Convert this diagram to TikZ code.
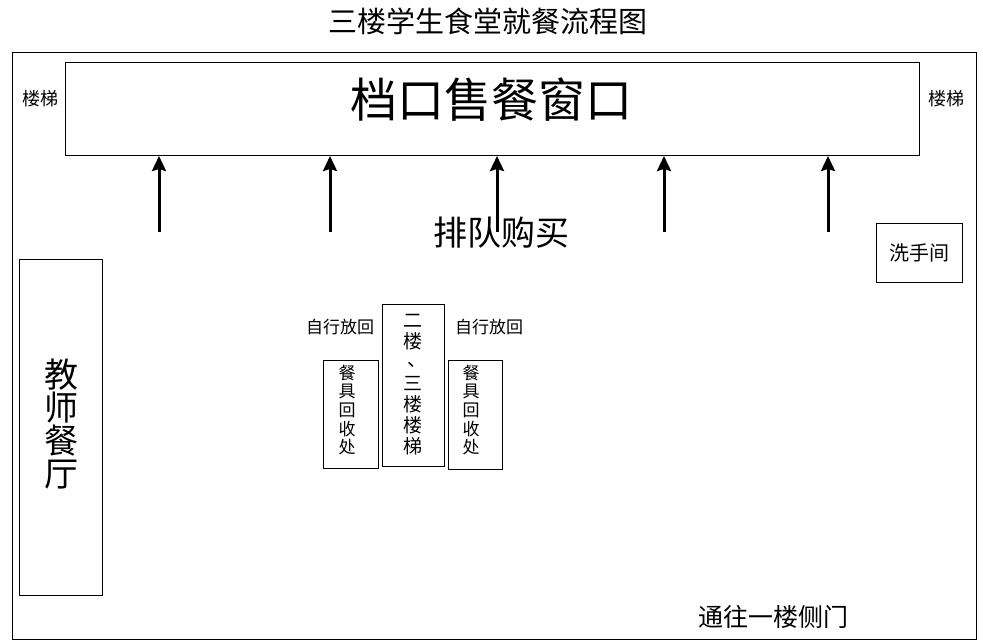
\documentclass[tikz,border=0pt]{standalone}
\usepackage{fontspec}
\setmainfont{Noto Sans CJK SC}
\usetikzlibrary{arrows.meta}
\begin{document}
\begin{tikzpicture}[x=1pt,y=-1pt,
  box/.style={draw,line width=1pt,anchor=north west,inner sep=0pt},
  lbl/.style={inner sep=0pt,align=center},
  uparrow/.style={line width=3pt,-{Stealth[length=15pt,width=14pt,inset=2pt]}}]
\useasboundingbox (0,0) rectangle (983,643);
% title
\node[lbl,font=\fontsize{29}{31}\selectfont] (title) at (488,21) {三楼学生食堂就餐流程图};
% outer frame
\node[box,minimum width=964pt,minimum height=587pt] (frame) at (12,52) {};
% serving windows
\node[box,minimum width=854pt,minimum height=93pt] (window) at (65,62) {};
\node[lbl,font=\fontsize{47}{50}\selectfont] (windowtxt) at (491,100) {档口售餐窗口};
% stairs labels
\node[lbl,font=\fontsize{18}{20}\selectfont] (stairL) at (41,99) {楼梯};
\node[lbl,font=\fontsize{18}{20}\selectfont] (stairR) at (946,99) {楼梯};
% arrows
\coordinate (a1) at (159,232);
\coordinate (a2) at (330,232);
\coordinate (a3) at (497,232);
\coordinate (a4) at (664,232);
\coordinate (a5) at (828,232);
\foreach \a in {a1,a2,a3,a4,a5}
  \draw[uparrow] (\a) -- (\a |- window.south);
\node[lbl,font=\fontsize{34}{36}\selectfont] (queue) at (501,233) {排队购买};
% washroom
\node[box,minimum width=86pt,minimum height=59pt] (wash) at (876,223) {};
\node[lbl,font=\fontsize{20}{22}\selectfont] (washtxt) at (wash.center) {洗手间};
% teachers' dining room
\node[box,minimum width=83pt,minimum height=336pt] (teach) at (19,259) {};
\node[lbl,font=\fontsize{34}{33}\selectfont] (teachtxt) at (61,424) {教\\师\\餐\\厅};
% return labels
\node[lbl,font=\fontsize{17}{19}\selectfont] (retL) at (340,327) {自行放回};
\node[lbl,font=\fontsize{17}{19}\selectfont] (retR) at (489,327) {自行放回};
% tableware return boxes
\node[box,minimum width=55pt,minimum height=108pt] (trayL) at (323,360) {};
\node[lbl,font=\fontsize{17}{18.7}\selectfont] (trayLtxt) at (347,410) {餐\\具\\回\\收\\处};
\node[box,minimum width=54pt,minimum height=109pt] (trayR) at (448,360) {};
\node[lbl,font=\fontsize{17}{18.7}\selectfont] (trayRtxt) at (471,410) {餐\\具\\回\\收\\处};
% stairs to 2nd/3rd floor
\node[box,minimum width=62pt,minimum height=162pt] (stairM) at (382,304) {};
\node[lbl,font=\fontsize{19}{21}\selectfont] (stairMtxt) at (413,385) {二\\楼\\\smash{\raisebox{3pt}{\hspace{8pt}、}}\\三\\楼\\楼\\梯};
% exit
\node[lbl,font=\fontsize{25}{27}\selectfont] (exit) at (773,617) {通往一楼侧门};
\end{tikzpicture}
\end{document}
